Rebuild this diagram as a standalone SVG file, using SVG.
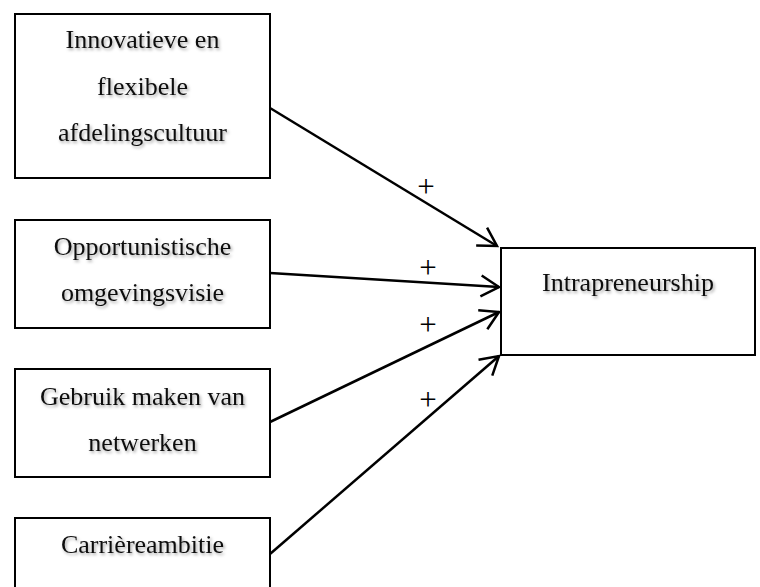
<svg xmlns="http://www.w3.org/2000/svg" width="760" height="587" viewBox="0 0 760 587">
  <defs>
    <style>
      .box { fill: #ffffff; stroke: #000000; stroke-width: 2; }
      .lbl { font-family: "Liberation Serif", "Times New Roman", serif; font-size: 26px; fill: #111111; text-anchor: middle; }
      .plus { font-family: "Liberation Serif", "Times New Roman", serif; font-size: 31px; fill: #000000; text-anchor: middle; }
      .conn { stroke: #000000; stroke-width: 2.5; fill: none; }
    </style>
    <filter id="shadow" x="-10%" y="-20%" width="120%" height="150%">
      <feDropShadow dx="1.5" dy="2" stdDeviation="1.5" flood-color="#000000" flood-opacity="0.35"/>
    </filter>
    <marker id="arrow" markerUnits="userSpaceOnUse" markerWidth="28" markerHeight="28" viewBox="-24 -14 28 28" refX="0" refY="0" orient="auto">
      <path d="M-18,-10.5 L0,0 L-18,10.5" fill="none" stroke="#000000" stroke-width="2.5" stroke-linejoin="miter"/>
    </marker>
  </defs>
  <rect width="760" height="587" fill="#ffffff"/>

  <g id="node-innovatieve">
    <rect class="box" x="15" y="14" width="255" height="164"/>
    <g filter="url(#shadow)">
      <text class="lbl" x="142.5" y="48">Innovatieve en</text>
      <text class="lbl" x="142.5" y="94.5">flexibele</text>
      <text class="lbl" x="142.5" y="141">afdelingscultuur</text>
    </g>
  </g>

  <g id="node-opportunistische">
    <rect class="box" x="15" y="220" width="255" height="108"/>
    <g filter="url(#shadow)">
      <text class="lbl" x="142.5" y="255">Opportunistische</text>
      <text class="lbl" x="142.5" y="301">omgevingsvisie</text>
    </g>
  </g>

  <g id="node-netwerken">
    <rect class="box" x="15" y="369" width="255" height="108"/>
    <g filter="url(#shadow)">
      <text class="lbl" x="142.5" y="405">Gebruik maken van</text>
      <text class="lbl" x="142.5" y="451">netwerken</text>
    </g>
  </g>

  <g id="node-carriere">
    <rect class="box" x="15" y="518" width="255" height="108"/>
    <g filter="url(#shadow)">
      <text class="lbl" x="142.5" y="553">Carrièreambitie</text>
    </g>
  </g>

  <g id="node-intrapreneurship">
    <rect class="box" x="501" y="248" width="254" height="107"/>
    <g filter="url(#shadow)">
      <text class="lbl" x="628" y="291">Intrapreneurship</text>
    </g>
  </g>

  <g id="connectors">
    <line class="conn" x1="270" y1="108" x2="497" y2="246" marker-end="url(#arrow)"/>
    <line class="conn" x1="270" y1="273" x2="499" y2="287" marker-end="url(#arrow)"/>
    <line class="conn" x1="270" y1="422" x2="499" y2="312" marker-end="url(#arrow)"/>
    <line class="conn" x1="270" y1="554" x2="499" y2="356" marker-end="url(#arrow)"/>
    <text class="plus" x="426" y="197">+</text>
    <text class="plus" x="428" y="278">+</text>
    <text class="plus" x="428" y="335">+</text>
    <text class="plus" x="428" y="410">+</text>
  </g>
</svg>
